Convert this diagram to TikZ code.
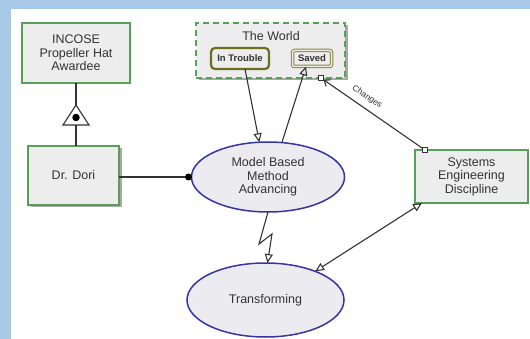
\documentclass[tikz,border=0pt]{standalone}
\usepackage{fontspec}
\setmainfont{Liberation Sans}
\usetikzlibrary{arrows.meta,shapes.geometric,shadows,calc}
\definecolor{bgblue}{HTML}{A9C9E9}
\definecolor{boxgreen}{HTML}{5A9E5A}
\definecolor{boxfill}{HTML}{EDEDED}
\definecolor{ellblue}{HTML}{3535A5}
\definecolor{ellfill}{HTML}{ECECF0}
\definecolor{olivedark}{HTML}{6E6E1E}
\definecolor{olivelight}{HTML}{85854A}
\definecolor{inktext}{HTML}{333333}
\definecolor{linkgray}{HTML}{333333}
\definecolor{shadowgray}{HTML}{A8A8A8}

\begin{document}
\begin{tikzpicture}[x=1pt,y=-1pt,
  every node/.style={text=inktext, font=\fontsize{12.5}{13.5}\selectfont,
    inner sep=0pt, outer sep=0pt, align=center},
  objbox/.style={draw=boxgreen, line width=1.8pt, fill=boxfill},
  boxshadow/.style={drop shadow={shadow xshift=2.5pt, shadow yshift=-2.5pt,
    fill=shadowgray, opacity=1}},
  process/.style={ellipse, draw=ellblue, line width=1.5pt, fill=ellfill},
  link/.style={draw=linkgray, line width=1.1pt},
  opentip/.style={-{Triangle[open, length=9pt, width=8pt]}},
  sqpin/.style={draw=linkgray, fill=white, line width=0.9pt, minimum size=5pt}
]
\useasboundingbox (0,0) rectangle (530,339);
\fill[bgblue] (0,0) rectangle (530,339);
\fill[white] (11,9) rectangle (530,339);

% objects
\node[objbox, minimum width=108pt, minimum height=60pt] (incose) at (76,53)
  {INCOSE\\Propeller Hat\\Awardee};
\node[objbox, boxshadow, minimum width=91pt, minimum height=59pt] (dori) at (73.5,175.5)
  {Dr. Dori};
\node[objbox, minimum width=113pt, minimum height=53pt] (sed) at (471.5,176.5)
  {Systems\\Engineering\\Discipline};

% the world with its two states
\node[objbox, dash pattern=on 6pt off 4pt, boxshadow, minimum width=149pt,
  minimum height=55pt] (world) at (270.5,50.5) {};
\node (worldtitle) at (271,36) {The World};
\node[draw=olivedark, line width=2.2pt, rounded corners=4pt, fill=boxfill,
  minimum width=58pt, minimum height=21pt,
  font=\bfseries\fontsize{9.5}{10}\selectfont] (trouble) at (240,58.5) {In Trouble};
\node[draw=olivelight, line width=1pt, double=olivelight!15, double distance=1.5pt,
  rounded corners=2pt, fill=boxfill, minimum width=39pt, minimum height=16pt,
  font=\bfseries\fontsize{9.5}{10}\selectfont] (saved) at (312,58.5) {Saved};

% processes
\node[process, minimum width=153pt, minimum height=70pt] (mbma) at (268,177)
  {Model Based\\Method\\Advancing};
\node[process, minimum width=157pt, minimum height=74pt] (transf) at (265.5,300)
  {Transforming};

% characterization link
\coordinate (tapex) at (76,105);
\coordinate (tbase) at (76,125);
\draw[link] (incose.south) -- (tapex);
\draw[link, fill=white] (tapex) -- ++(13,20) -- ++(-26,0) -- cycle;
\node[circle, fill=black, minimum size=7.5pt] (tdot) at (76,117.5) {};
\draw[link] (tbase) -- (tbase |- dori.north);

% agent link
\node[circle, fill=black, minimum size=7pt] (agentdot) at ([xshift=-3pt]mbma.west) {};
\draw[link] (dori.east |- mbma.west) -- (agentdot);

% input / output links
\draw[link, opentip] ([xshift=5pt]trouble.south) -- (mbma.104);
\draw[link, opentip] (mbma.68) -- ([xshift=-6pt]saved.south);

% invocation link
\draw[link, opentip] (mbma.south) -- ++(-9,32) coordinate (zz1)
  -- ++(13,-10) coordinate (zz2) -- (transf.87);

% effect link
\draw[link, {Triangle[open, length=9pt, width=8pt]}-{Triangle[open, length=9pt, width=8pt]}]
  (transf.30) -- ([xshift=7pt]sed.south west);

% tagged structural link
\node[sqpin] (pinsed) at ([xshift=10pt]sed.north west) {};
\node[sqpin] (pinworld) at ([xshift=50.5pt]world.south) {};
\draw[link, -{Straight Barb[length=5pt, width=8pt]}] (pinsed) -- (pinworld);
\node[font=\fontsize{8.5}{9}\selectfont, rotate=-34] (chg) at (367,97) {Changes};
\end{tikzpicture}
\end{document}
